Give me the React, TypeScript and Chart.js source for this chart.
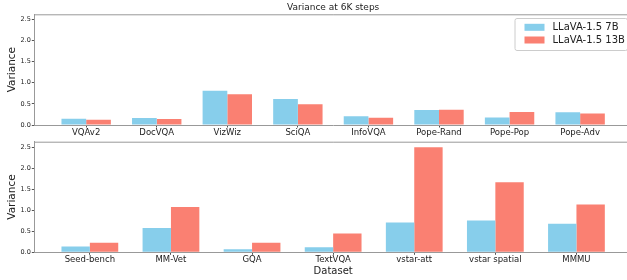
import React, { useEffect, useRef } from "react";
import { Chart, registerables } from "chart.js";

Chart.register(...registerables);

const topCategories = ["VQAv2", "DocVQA", "VizWiz", "SciQA", "InfoVQA", "Pope-Rand", "Pope-Pop", "Pope-Adv"];
const top7B = [0.15, 0.165, 0.81, 0.615, 0.205, 0.355, 0.18, 0.3];
const top13B = [0.125, 0.14, 0.725, 0.49, 0.17, 0.36, 0.31, 0.275];

const bottomCategories = ["Seed-bench", "MM-Vet", "GQA", "TextVQA", "vstar-att", "vstar spatial", "MMMU"];
const bottom7B = [0.14, 0.58, 0.07, 0.12, 0.71, 0.76, 0.68];
const bottom13B = [0.23, 1.08, 0.23, 0.45, 2.51, 1.67, 1.14];

const yTickValues = [0, 0.5, 1.0, 1.5, 2.0, 2.5];
const seriesNames = ["LLaVA-1.5 7B", "LLaVA-1.5 13B"];
const seriesColors = ["#87CEEB", "#FA8072"];
const chartTitle = "Variance at 6K steps";
const xAxisTitle = "Dataset";
const yAxisTitle = "Variance";

const FONT = "DejaVu Sans";
const TEXT = "#222222";
const SPINE = "#999999";
const TICKC = "#555555";

const topSpine = {
  id: "topSpine",
  afterDraw(chart: any) {
    const { ctx, chartArea } = chart;
    ctx.save();
    ctx.strokeStyle = SPINE;
    ctx.lineWidth = 1;
    ctx.beginPath();
    ctx.moveTo(chartArea.left, chartArea.top + 0.5);
    ctx.lineTo(chartArea.right, chartArea.top + 0.5);
    ctx.stroke();
    ctx.restore();
  },
};

const insideLegend = {
  id: "insideLegend",
  afterDraw(chart: any, _args: any, opts: any) {
    if (!opts || !opts.show) return;
    const { ctx, chartArea } = chart;
    const w = 112.5;
    const h = 32;
    const x0 = chartArea.right - 5 - w;
    const y0 = chartArea.top + 3.7;
    ctx.save();
    ctx.fillStyle = "rgba(255,255,255,0.8)";
    ctx.strokeStyle = "#cccccc";
    ctx.lineWidth = 1;
    ctx.beginPath();
    (ctx as any).roundRect(x0 + 0.5, y0 + 0.5, w, h, 2);
    ctx.fill();
    ctx.stroke();
    ctx.font = `10px "${FONT}"`;
    ctx.textBaseline = "middle";
    ctx.textAlign = "left";
    chart.data.datasets.forEach((ds: any, i: number) => {
      const cy = y0 + 9.3 + i * 12.7;
      ctx.fillStyle = ds.backgroundColor;
      ctx.fillRect(x0 + 10, cy - 3.5, 20, 7);
      ctx.fillStyle = TEXT;
      ctx.fillText(ds.label, x0 + 38, cy + 0.5);
    });
    ctx.restore();
  },
};

function makeConfig(p: {
  cats: string[];
  a: number[];
  b: number[];
  yMax: number;
  padTop: number;
  xAxisHeight: number;
  title?: string;
  xTitle?: string;
  legend?: boolean;
}): any {
  const n = p.cats.length;
  const span = n - 1 + 0.7;
  const margin = 0.05 * span;
  return {
    type: "bar",
    data: {
      datasets: [
        {
          label: seriesNames[0],
          data: p.cats.map((_, i) => ({ x: i, y: p.a[i] })),
          backgroundColor: seriesColors[0],
          borderWidth: 0,
        },
        {
          label: seriesNames[1],
          data: p.cats.map((_, i) => ({ x: i, y: p.b[i] })),
          backgroundColor: seriesColors[1],
          borderWidth: 0,
        },
      ],
    },
    options: {
      animation: false,
      responsive: false,
      maintainAspectRatio: false,
      devicePixelRatio: 1,
      layout: { padding: { top: p.padTop, left: 0, right: 0, bottom: 0 } },
      datasets: { bar: { categoryPercentage: 0.7, barPercentage: 1.0 } },
      plugins: {
        legend: { display: false },
        tooltip: { enabled: false },
        title: {
          display: !!p.title,
          text: p.title || "",
          fullSize: false,
          color: TEXT,
          font: { family: FONT, size: 9, weight: "normal", lineHeight: 1.2 },
          padding: { top: 2.5, bottom: 1 },
        },
        insideLegend: { show: !!p.legend },
      },
      scales: {
        x: {
          type: "linear",
          offset: false,
          min: -0.35 - margin,
          max: n - 1 + 0.35 + margin,
          afterBuildTicks: (axis: any) => {
            axis.ticks = p.cats.map((_, i) => ({ value: i }));
          },
          afterFit: (axis: any) => {
            axis.height = p.xAxisHeight;
          },
          ticks: {
            autoSkip: false,
            maxRotation: 0,
            minRotation: 0,
            padding: 1,
            color: TEXT,
            font: { family: FONT, size: 8.5, lineHeight: 1.0 },
            callback: (v: any) => p.cats[Math.round(v)] ?? "",
          },
          grid: {
            display: true,
            drawOnChartArea: false,
            drawTicks: true,
            tickLength: 2.5,
            tickColor: TICKC,
            offset: false,
          },
          border: { display: true, color: SPINE, width: 1 },
          title: {
            display: !!p.xTitle,
            text: p.xTitle || "",
            color: TEXT,
            font: { family: FONT, size: 10, lineHeight: 1.2 },
            padding: { top: 0, bottom: 2.3 },
          },
        },
        y: {
          type: "linear",
          min: 0,
          max: p.yMax,
          afterBuildTicks: (axis: any) => {
            axis.ticks = yTickValues.map((v) => ({ value: v }));
          },
          afterFit: (axis: any) => {
            axis.width = 34.3;
          },
          ticks: {
            padding: 1,
            color: TEXT,
            font: { family: FONT, size: 6.5 },
            callback: (v: any) => Number(v).toFixed(1),
          },
          grid: {
            display: true,
            drawOnChartArea: false,
            drawTicks: true,
            tickLength: 2.5,
            tickColor: TICKC,
          },
          border: { display: true, color: SPINE, width: 1 },
          title: {
            display: true,
            text: yAxisTitle,
            color: TEXT,
            font: { family: FONT, size: 10.5, lineHeight: 1.2 },
            padding: { top: 6, bottom: 0 },
          },
        },
      },
    },
    plugins: [topSpine, insideLegend],
  };
}

export default function App() {
  const topRef = useRef<HTMLCanvasElement>(null);
  const botRef = useRef<HTMLCanvasElement>(null);

  useEffect(() => {
    Chart.defaults.font.family = FONT;
    const c1 = new Chart(
      topRef.current as HTMLCanvasElement,
      makeConfig({
        cats: topCategories,
        a: top7B,
        b: top13B,
        yMax: 2.62,
        padTop: 0,
        xAxisHeight: 13,
        title: chartTitle,
        legend: true,
      })
    );
    const c2 = new Chart(
      botRef.current as HTMLCanvasElement,
      makeConfig({
        cats: bottomCategories,
        a: bottom7B,
        b: bottom13B,
        yMax: 2.64,
        padTop: 8.7,
        xAxisHeight: 27.7,
        xTitle: xAxisTitle,
      })
    );
    return () => {
      c1.destroy();
      c2.destroy();
    };
  }, []);

  return (
    <div
      style={{
        position: "absolute",
        left: 0,
        top: 0,
        width: 627,
        height: 280,
        overflow: "hidden",
        background: "#ffffff",
      }}
    >
      <canvas
        ref={topRef}
        width={632}
        height={138}
        style={{ position: "absolute", left: 0, top: 0, width: 632, height: 138 }}
      />
      <canvas
        ref={botRef}
        width={632}
        height={147}
        style={{ position: "absolute", left: 0, top: 133, width: 632, height: 147 }}
      />
    </div>
  );
}
